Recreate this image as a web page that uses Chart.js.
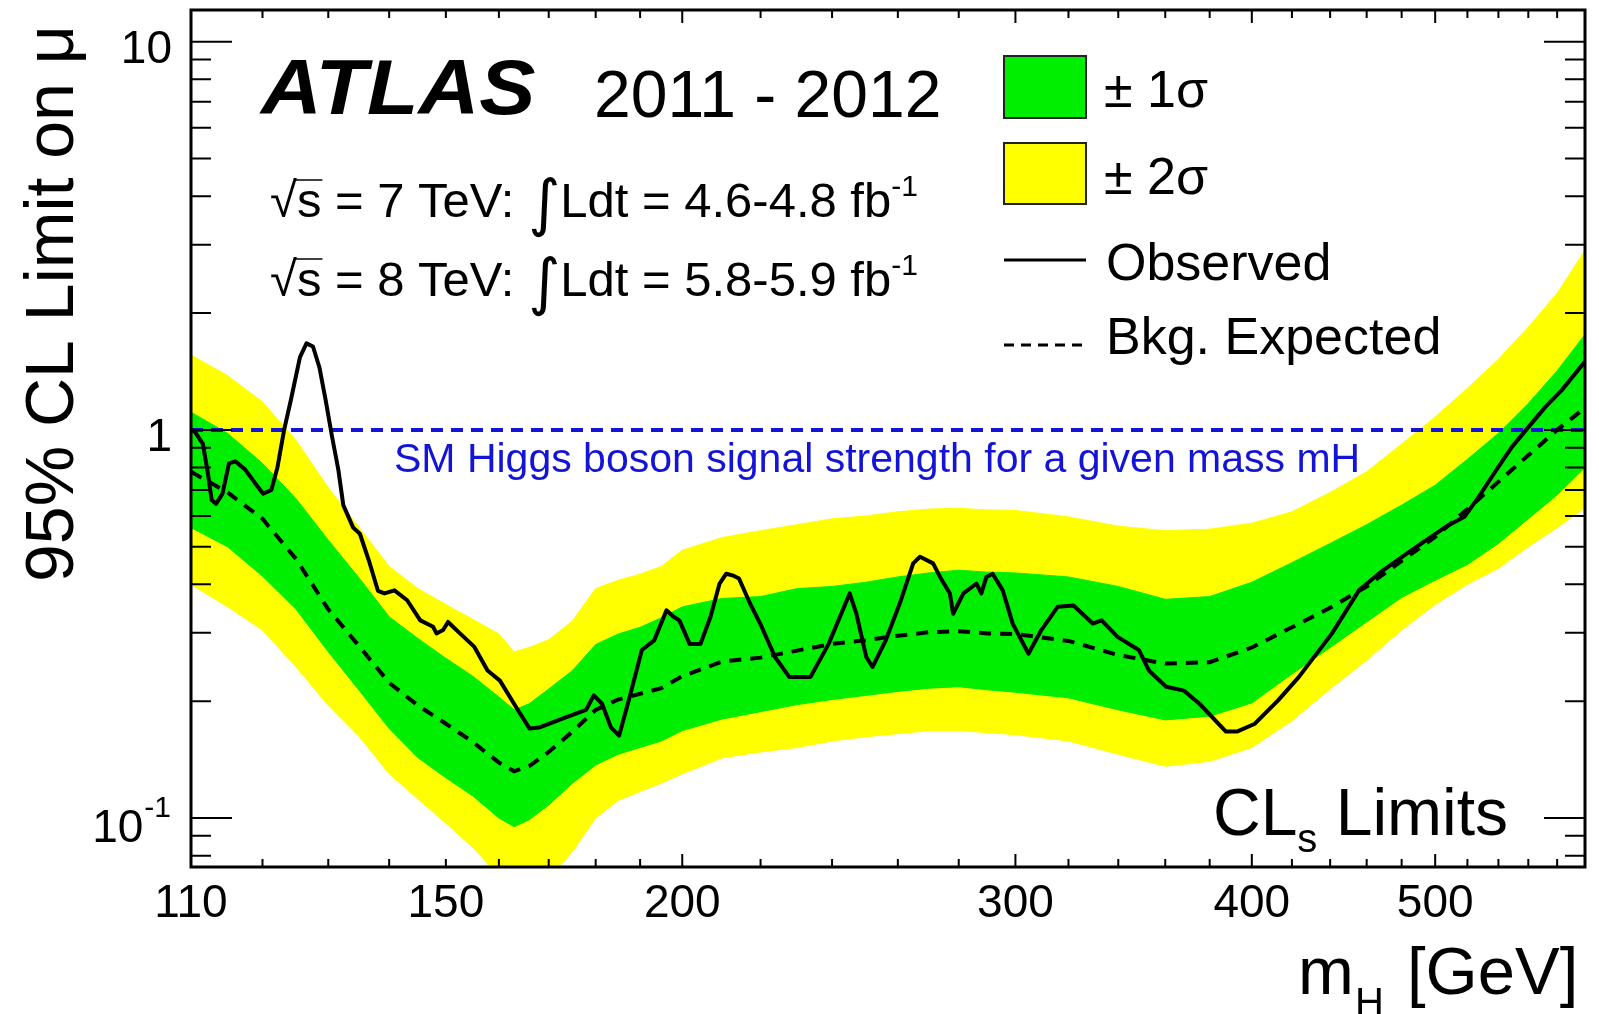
<!DOCTYPE html>
<html>
<head>
<meta charset="utf-8">
<script src="https://cdn.jsdelivr.net/npm/chart.js@4.4.1/dist/chart.umd.min.js"></script>
<style>
  html, body { margin: 0; padding: 0; background: #fff; }
  #wrap { width: 1599px; height: 1014px; }
</style>
</head>
<body>
<div id="wrap"><canvas id="limitChart" width="1599" height="1014"></canvas></div>
<script>
const bandMass = [110, 115, 120, 125, 130, 135, 140, 145, 150, 155, 160, 163, 166, 170, 175, 180, 185, 190, 195, 200,
  210, 220, 230, 240, 250, 260, 270, 280, 290, 300, 320, 340, 360, 380, 400, 420, 440, 460, 480, 500, 520, 540, 560, 580, 600];

const expected = [0.78, 0.69, 0.59, 0.465, 0.345, 0.277, 0.223, 0.195, 0.175, 0.157, 0.139, 0.132, 0.136, 0.148, 0.167, 0.19, 0.202, 0.209, 0.216, 0.232,
  0.253, 0.259, 0.27, 0.281, 0.287, 0.295, 0.301, 0.303, 0.299, 0.298, 0.286, 0.263, 0.25, 0.252, 0.275, 0.31, 0.348, 0.395, 0.46, 0.53, 0.625, 0.735, 0.86, 1.0, 1.14];

const oneSigmaHigh = [1.11, 0.98, 0.82, 0.665, 0.52, 0.415, 0.33, 0.29, 0.258, 0.232, 0.205, 0.19, 0.197, 0.215, 0.24, 0.28, 0.298, 0.31, 0.328, 0.35,
  0.368, 0.372, 0.39, 0.395, 0.405, 0.418, 0.428, 0.435, 0.43, 0.428, 0.418, 0.395, 0.366, 0.372, 0.405, 0.455, 0.51, 0.57, 0.64, 0.72, 0.84, 0.98, 1.17, 1.42, 1.76];

const oneSigmaLow = [0.56, 0.5, 0.42, 0.345, 0.268, 0.213, 0.17, 0.143, 0.127, 0.114, 0.1, 0.095, 0.099, 0.108, 0.123, 0.137, 0.146, 0.152, 0.158, 0.168,
  0.18, 0.188, 0.196, 0.202, 0.207, 0.212, 0.216, 0.218, 0.214, 0.211, 0.204, 0.19, 0.179, 0.183, 0.198, 0.235, 0.275, 0.32, 0.37, 0.41, 0.45, 0.51, 0.59, 0.68, 0.8];

const twoSigmaHigh = [1.56, 1.38, 1.18, 0.94, 0.71, 0.56, 0.445, 0.39, 0.355, 0.325, 0.298, 0.268, 0.275, 0.288, 0.322, 0.39, 0.41, 0.425, 0.445, 0.49,
  0.528, 0.55, 0.57, 0.59, 0.6, 0.615, 0.625, 0.628, 0.622, 0.62, 0.597, 0.565, 0.55, 0.555, 0.575, 0.615, 0.69, 0.78, 0.92, 1.08, 1.28, 1.52, 1.84, 2.25, 2.9];

const twoSigmaLow = [0.4, 0.35, 0.305, 0.245, 0.195, 0.162, 0.13, 0.112, 0.097, 0.084, 0.071, 0.065, 0.064, 0.07, 0.082, 0.1, 0.111, 0.117, 0.123, 0.13,
  0.143, 0.148, 0.152, 0.158, 0.162, 0.165, 0.168, 0.168, 0.166, 0.164, 0.158, 0.146, 0.136, 0.14, 0.152, 0.178, 0.215, 0.255, 0.305, 0.355, 0.4, 0.44, 0.5, 0.56, 0.63];

// Observed limit
const obsMass = [110, 110.5, 111.6, 112.3, 112.8, 113.4, 114.3, 115.2, 116.1, 117.5, 118.9, 120.1, 121.3, 122.2, 123.2, 124.2, 125.6, 126.6, 127.6, 128.6,
  129.6, 130.6, 131.6, 132.4, 134, 135.1, 136.6, 138.1, 139.2, 140.9, 143.1, 145.4, 147.7, 148.3, 149.5, 150.4, 152.6, 155.3, 157.8, 160.2,
  163.4, 166.1, 168, 173.7, 177.9, 179.6, 181.4, 183.4, 185.2, 187.6, 190.4, 193.3, 196.2, 197.9, 199.3, 201.8, 204.5, 207, 209.3, 211,
  212.6, 214.3, 217.2, 219.9, 223.9, 227.8, 233.8, 239, 245.2, 247.2, 250.2, 252.1, 256.2, 260.6, 264.9, 267.1, 271.4, 273.7, 277, 278.1,
  281.6, 286.1, 287.8, 289.6, 291.8, 295.4, 299, 304.8, 309.6, 315.8, 322, 329.6, 333.2, 339.7, 348.6, 352.9, 360.4, 368.2, 375.3, 387.6,
  392.8, 401.5, 413, 423.6, 441, 455.7, 467.3, 485.9, 506.2, 518.1, 527.2, 538.5, 549, 560.2, 571.8, 583.3, 600];

const observed = [1.0, 0.99, 0.92, 0.77, 0.66, 0.645, 0.685, 0.82, 0.83, 0.79, 0.73, 0.685, 0.7, 0.8, 1.0, 1.19, 1.54, 1.67, 1.64, 1.45,
  1.19, 0.96, 0.79, 0.64, 0.56, 0.54, 0.46, 0.385, 0.379, 0.386, 0.364, 0.323, 0.311, 0.299, 0.305, 0.32, 0.299, 0.276, 0.24, 0.226,
  0.193, 0.17, 0.171, 0.182, 0.19, 0.207, 0.197, 0.171, 0.163, 0.205, 0.271, 0.287, 0.343, 0.33, 0.323, 0.281, 0.281, 0.33, 0.402, 0.426,
  0.422, 0.414, 0.357, 0.317, 0.26, 0.231, 0.231, 0.281, 0.379, 0.336, 0.26, 0.245, 0.287, 0.357, 0.453, 0.471, 0.453, 0.418, 0.379, 0.336,
  0.379, 0.402, 0.379, 0.418, 0.426, 0.386, 0.317, 0.265, 0.305, 0.35, 0.353, 0.317, 0.323, 0.293, 0.271, 0.24, 0.218, 0.213, 0.197, 0.167,
  0.167, 0.175, 0.201, 0.231, 0.299, 0.386, 0.428, 0.49, 0.562, 0.597, 0.672, 0.787, 0.904, 1.018, 1.146, 1.266, 1.5];

// SM reference (mu = 1)
const smMass = [110, 600];
const smMu = [1, 1];

// Axis ticks and labels
const xLabels = [110, 150, 200, 300, 400, 500];
const xMajor = [200, 300, 400, 500];
const xTicks = [110, 120, 130, 140, 150, 160, 170, 180, 190, 200, 220, 240, 260, 280, 300, 320, 340, 360, 380, 400,
  420, 440, 460, 480, 500, 520, 540, 560, 580];
const yMajor = [0.1, 1, 10];
const yTicks = [0.08, 0.09, 0.1, 0.2, 0.3, 0.4, 0.5, 0.6, 0.7, 0.8, 0.9, 1, 2, 3, 4, 5, 6, 7, 8, 9, 10];

const FONT = '"Liberation Sans", Arial, Helvetica, sans-serif';
const GREEN = 'rgb(0, 238, 0)';
const YELLOW = 'rgb(255, 255, 0)';
const BLUE = 'rgb(20, 20, 215)';

const pts = (xs, ys) => xs.map((m, i) => ({ x: m, y: ys[i] }));

function drawRuns(ctx, x, y, runs) {
    runs.forEach(r => {
        ctx.font = r.font;
        ctx.fillText(r.text, x, y + (r.dy || 0));
        const w = ctx.measureText(r.text).width;
        if (r.over) {
            ctx.beginPath();
            ctx.lineWidth = 1.5;
            ctx.moveTo(x - 2, y - 37);
            ctx.lineTo(x + w + 1, y - 37);
            ctx.stroke();
        }
        x += w + (r.gap || 0);
    });
}

const atlasDecor = {
    id: 'atlasDecor',
    afterDraw(chart) {
        const { ctx, chartArea: a, scales: { x, y } } = chart;
        ctx.save();
        ctx.fillStyle = '#000';
        ctx.strokeStyle = '#000';

        // ticks on all four sides, pointing inwards
        ctx.lineWidth = 2;
        ctx.beginPath();
        xTicks.forEach(v => {
            const px = x.getPixelForValue(v);
            const len = xMajor.includes(v) ? 13 : 8;
            ctx.moveTo(px, a.bottom); ctx.lineTo(px, a.bottom - len);
            ctx.moveTo(px, a.top); ctx.lineTo(px, a.top + len);
        });
        yTicks.forEach(v => {
            const py = y.getPixelForValue(v);
            const len = yMajor.includes(v) ? 41 : 20;
            ctx.moveTo(a.left, py); ctx.lineTo(a.left + len, py);
            ctx.moveTo(a.right, py); ctx.lineTo(a.right - len, py);
        });
        ctx.stroke();

        // frame
        ctx.lineWidth = 3;
        ctx.strokeRect(a.left, a.top, a.right - a.left, a.bottom - a.top);

        // x tick labels
        ctx.font = '46px ' + FONT;
        ctx.textAlign = 'center';
        ctx.textBaseline = 'alphabetic';
        xLabels.forEach(v => ctx.fillText(String(v), x.getPixelForValue(v), a.bottom + 50));

        // y tick labels
        ctx.textAlign = 'right';
        ctx.font = '46px ' + FONT;
        ctx.fillText('10', a.left - 19, y.getPixelForValue(10) + 21);
        ctx.fillText('1', a.left - 19, y.getPixelForValue(1) + 21);
        const yTenth = y.getPixelForValue(0.1);
        ctx.font = '30px ' + FONT;
        ctx.fillText('-1', a.left - 20, yTenth - 1);
        const supW = ctx.measureText('-1').width;
        ctx.font = '46px ' + FONT;
        ctx.fillText('10', a.left - 21 - supW, yTenth + 24);

        // axis titles
        ctx.textAlign = 'left';
        ctx.font = '67px ' + FONT;
        ctx.fillText('m', 1298, 994);
        ctx.font = '40px ' + FONT;
        ctx.fillText('H', 1355, 1016);
        ctx.font = '67px ' + FONT;
        ctx.fillText('[GeV]', 1407, 994);

        ctx.save();
        ctx.translate(73, 582);
        ctx.rotate(-Math.PI / 2);
        ctx.font = '68px ' + FONT;
        ctx.fillText('95% CL Limit on \u03bc', 0, 0);
        ctx.restore();

        // ATLAS label
        ctx.save();
        ctx.translate(261, 114);
        ctx.scale(1.08, 1);
        ctx.font = 'italic bold 78px ' + FONT;
        ctx.fillText('ATLAS', 0, 0);
        ctx.restore();
        ctx.font = '66px ' + FONT;
        ctx.fillText('2011 - 2012', 594, 117);

        const F49 = '49px ' + FONT;
        const lumi = (energy, lum, base) => drawRuns(ctx, 270, base, [
            { text: '\u221a', font: F49 },
            { text: 's', font: F49, over: true },
            { text: ' = ' + energy + ' TeV: ', font: F49 },
            { text: '\u222b', font: '62px "DejaVu Sans", sans-serif', dy: 7 },
            { text: 'Ldt = ' + lum + ' fb', font: F49 },
            { text: '-1', font: '30px ' + FONT, dy: -21 }
        ]);
        lumi('7', '4.6-4.8', 217);
        lumi('8', '5.8-5.9', 296);

        // legend
        ctx.lineWidth = 2;
        ctx.strokeStyle = '#222';
        ctx.fillStyle = GREEN;
        ctx.fillRect(1004, 56, 82, 62);
        ctx.strokeRect(1004, 56, 82, 62);
        ctx.fillStyle = YELLOW;
        ctx.fillRect(1004, 143, 82, 61);
        ctx.strokeRect(1004, 143, 82, 61);

        ctx.strokeStyle = '#000';
        ctx.lineWidth = 3;
        ctx.beginPath();
        ctx.moveTo(1004, 260); ctx.lineTo(1086, 260);
        ctx.stroke();
        ctx.setLineDash([10, 7]);
        ctx.beginPath();
        ctx.moveTo(1004, 345); ctx.lineTo(1086, 345);
        ctx.stroke();
        ctx.setLineDash([]);

        ctx.fillStyle = '#000';
        ctx.font = '52px ' + FONT;
        ctx.fillText('\u00b1 1\u03c3', 1104, 107);
        ctx.fillText('\u00b1 2\u03c3', 1104, 194);
        ctx.fillText('Observed', 1106, 280);
        ctx.fillText('Bkg. Expected', 1106, 354);

        // CLs label
        drawRuns(ctx, 1213, 835, [
            { text: 'CL', font: '66px ' + FONT },
            { text: 's', font: '40px ' + FONT, dy: 17, gap: 0 },
            { text: ' Limits', font: '66px ' + FONT }
        ]);

        // SM line caption
        ctx.fillStyle = BLUE;
        ctx.font = '41px ' + FONT;
        ctx.fillText('SM Higgs boson signal strength for a given mass mH', 394, 472);

        ctx.restore();
    }
};

new Chart(document.getElementById('limitChart'), {
    type: 'line',
    data: {
        datasets: [
            {
                label: '-2 sigma',
                data: pts(bandMass, twoSigmaLow),
                borderColor: YELLOW, borderWidth: 1, pointRadius: 0, tension: 0,
                fill: false, order: 6
            },
            {
                label: '+2 sigma',
                data: pts(bandMass, twoSigmaHigh),
                borderColor: YELLOW, borderWidth: 1, pointRadius: 0, tension: 0,
                backgroundColor: YELLOW, fill: '-1', order: 5
            },
            {
                label: '-1 sigma',
                data: pts(bandMass, oneSigmaLow),
                borderColor: GREEN, borderWidth: 1, pointRadius: 0, tension: 0,
                fill: false, order: 4
            },
            {
                label: '+1 sigma',
                data: pts(bandMass, oneSigmaHigh),
                borderColor: GREEN, borderWidth: 1, pointRadius: 0, tension: 0,
                backgroundColor: GREEN, fill: '-1', order: 3
            },
            {
                label: 'SM',
                data: pts(smMass, smMu),
                borderColor: BLUE, borderWidth: 4, borderDash: [12, 8], pointRadius: 0,
                fill: false, order: 2
            },
            {
                label: 'Bkg. Expected',
                data: pts(bandMass, expected),
                borderColor: '#000', borderWidth: 4, borderDash: [12, 9], pointRadius: 0, tension: 0,
                fill: false, order: 1
            },
            {
                label: 'Observed',
                data: pts(obsMass, observed),
                borderColor: '#000', borderWidth: 4, pointRadius: 0, tension: 0,
                borderJoinStyle: 'round', fill: false, order: 0
            }
        ]
    },
    options: {
        responsive: false,
        devicePixelRatio: 1,
        animation: false,
        layout: { padding: { left: 191, right: 14, top: 10, bottom: 147 } },
        plugins: { legend: { display: false }, tooltip: { enabled: false } },
        scales: {
            x: { type: 'logarithmic', min: 110, max: 600, bounds: 'data', display: false },
            y: { type: 'logarithmic', min: 0.0748, max: 12.07, bounds: 'data', display: false }
        }
    },
    plugins: [atlasDecor]
});
</script>
</body>
</html>
